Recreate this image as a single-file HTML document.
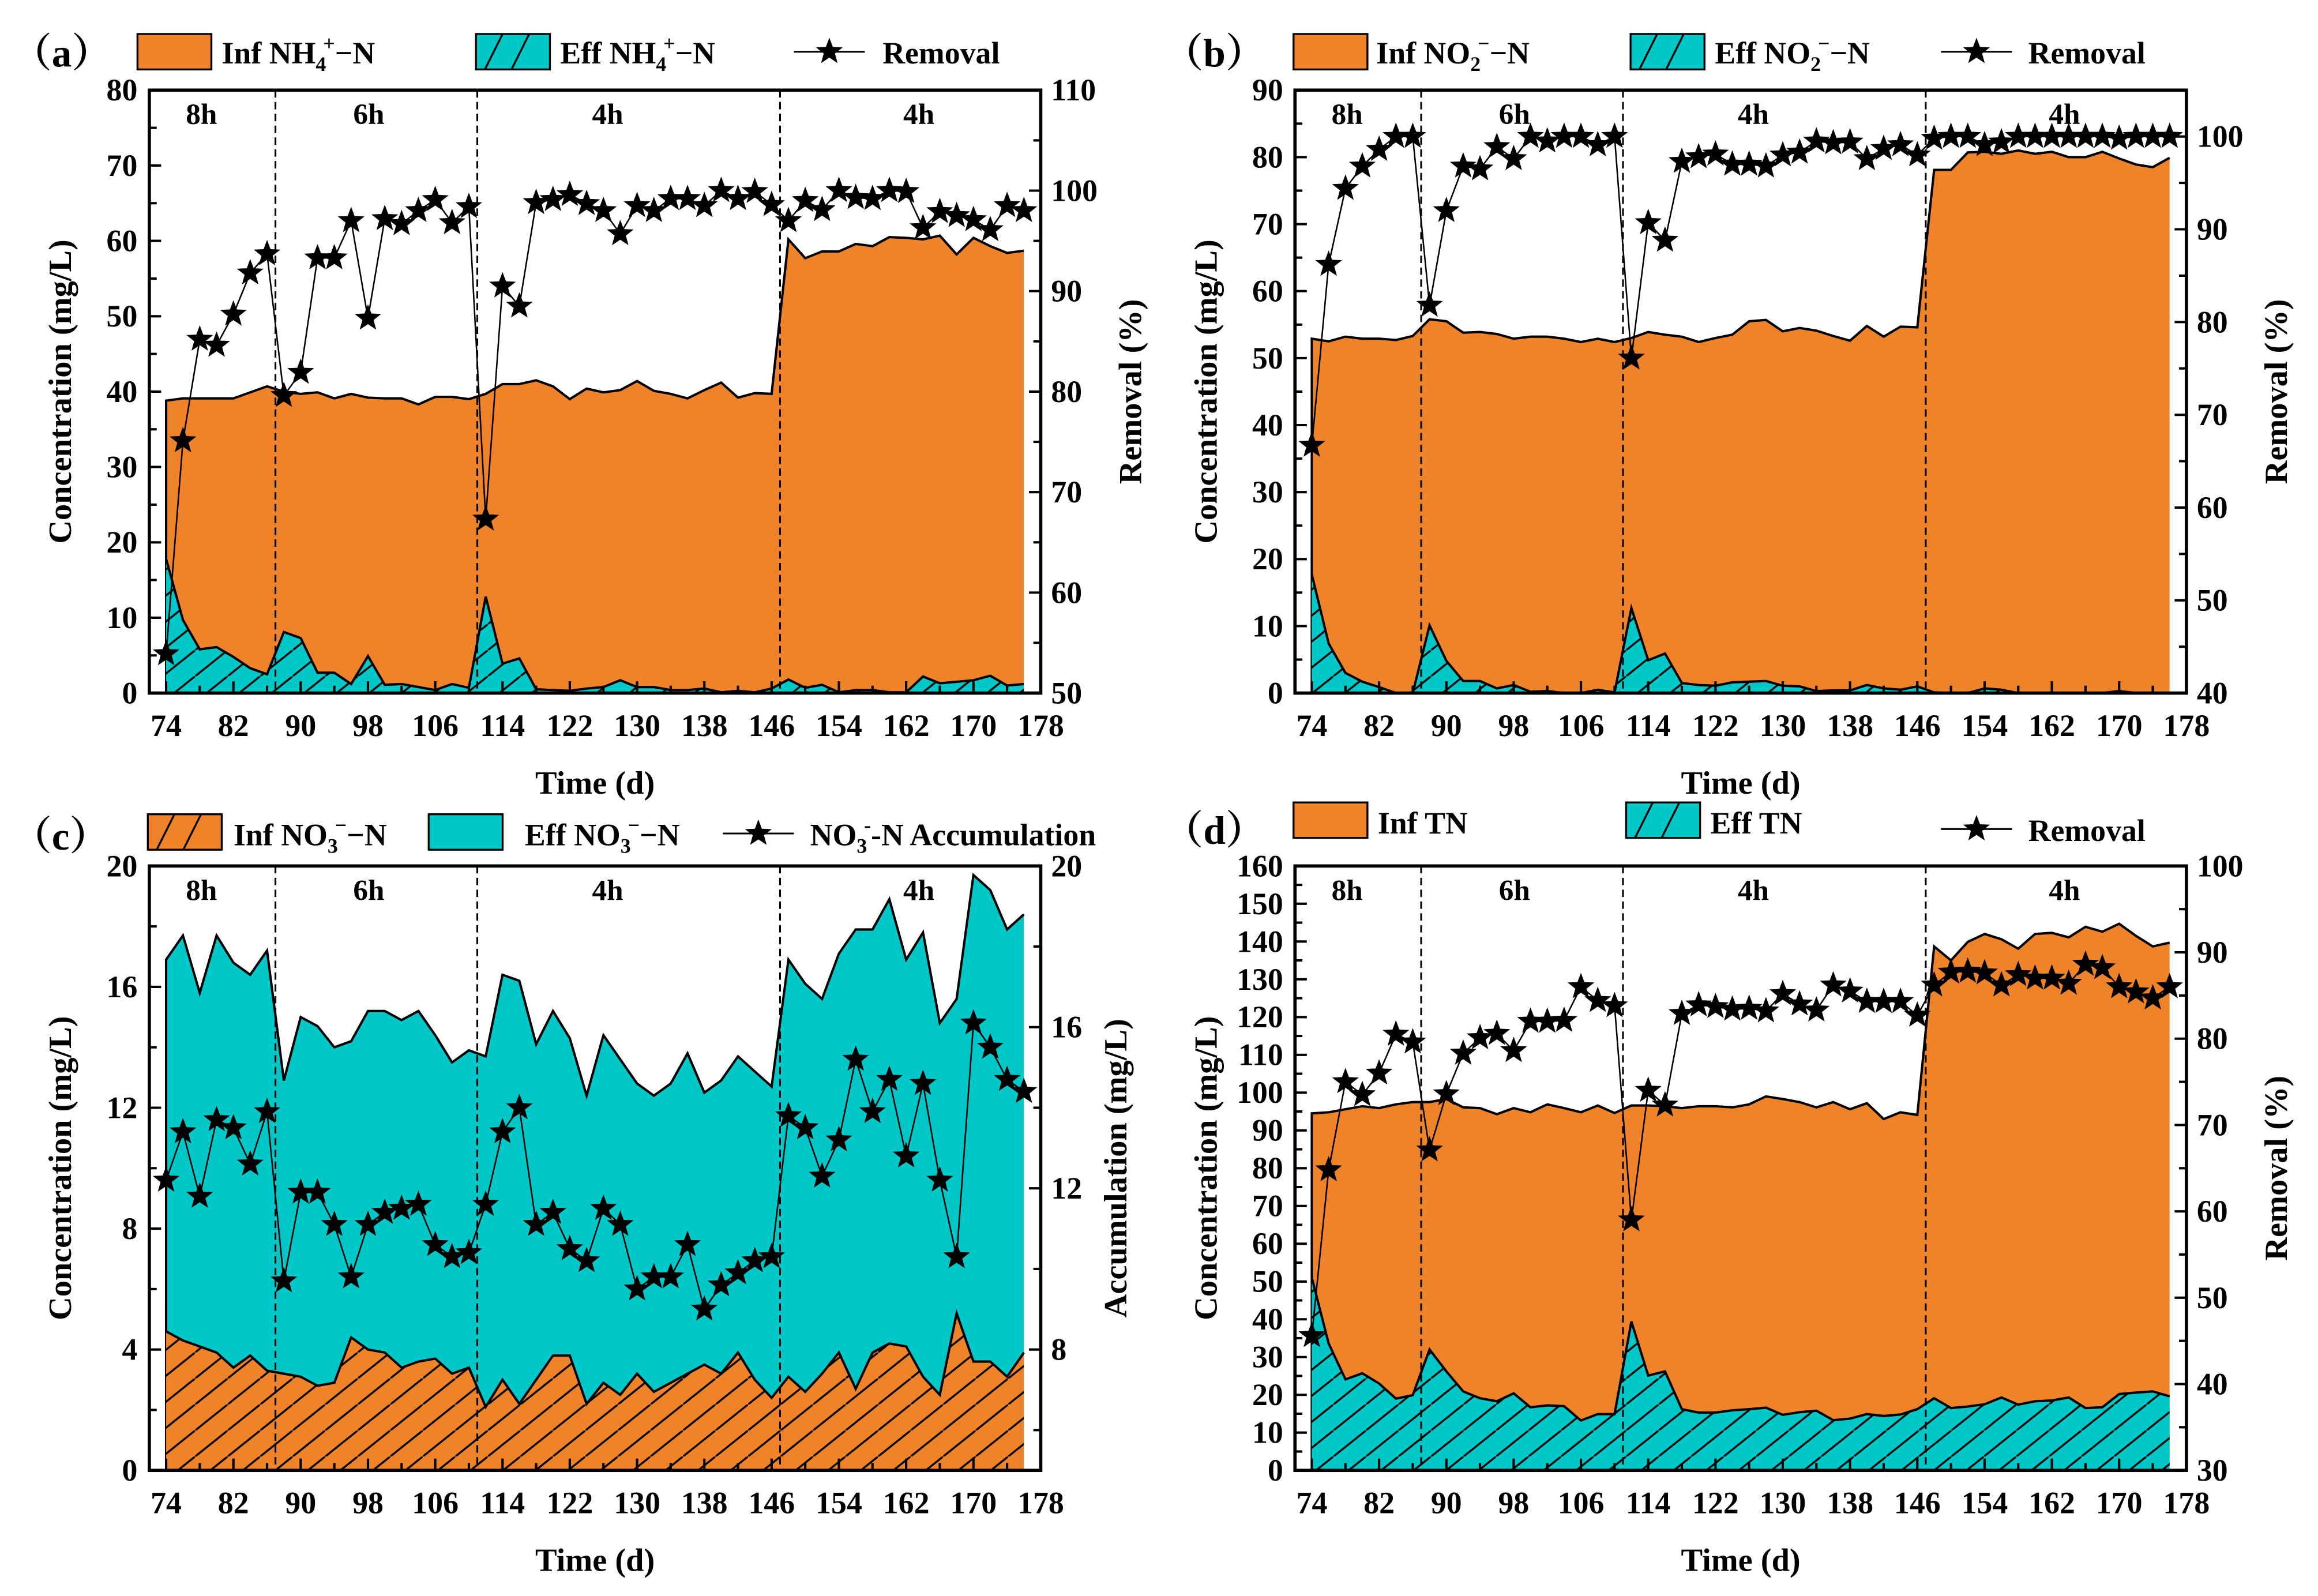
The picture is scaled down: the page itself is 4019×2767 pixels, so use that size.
<!DOCTYPE html>
<html><head><meta charset="utf-8"><title>Nitrogen removal charts</title>
<style>
html,body{margin:0;padding:0;background:#fff;}
svg{display:block;font-family:"Liberation Serif","Noto Serif CJK SC",serif;}
text{font-family:"Liberation Serif","Noto Serif CJK SC",serif;}
</style></head>
<body>
<svg id="fig" xmlns="http://www.w3.org/2000/svg" width="4019" height="2767" viewBox="0 0 1568 1080" preserveAspectRatio="none" font-family="Liberation Serif, Noto Serif CJK SC, serif">
<defs>
<pattern id="hatch" patternUnits="userSpaceOnUse" width="22" height="17.6">
<line x1="-2" y1="19.2" x2="24" y2="-1.6" stroke="#000" stroke-width="1.3"/>
</pattern>
</defs>
<rect x="0" y="0" width="1568" height="1080" fill="#fff"/>
</svg>
<script>
const days = [74,76,78,80,82,84,86,88,90,92,94,96,98,100,102,104,106,108,110,112,114,116,118,120,122,124,126,128,130,132,134,136,138,140,142,144,146,148,150,152,154,156,158,160,162,164,166,168,170,172,174,176];
const xTickLabels = [74,82,90,98,106,114,122,130,138,146,154,162,170,178];
const phaseBreaks = [87,111,147];
const phaseNames = ["8h","6h","4h","4h"];
const phaseCenters = [78.2,98.1,126.5,163.5];

const aInf = [38.8,39.1,39.1,39.1,39.1,39.9,40.7,40.0,39.7,39.9,39.1,39.7,39.2,39.1,39.1,38.3,39.3,39.3,39.0,39.7,41.0,41.0,41.5,40.7,39.0,40.4,39.9,40.2,41.4,40.1,39.7,39.1,40.2,41.2,39.2,39.8,39.7,60.2,57.7,58.6,58.6,59.6,59.3,60.5,60.4,60.2,60.7,58.2,60.4,59.3,58.4,58.7];
const aEff = [17.8,9.7,5.8,6.1,4.8,3.3,2.5,8.1,7.3,2.7,2.7,1.2,4.9,1.1,1.2,0.8,0.4,1.2,0.7,12.8,3.9,4.6,0.5,0.4,0.3,0.6,0.8,1.7,0.8,0.8,0.4,0.4,0.6,0.1,0.3,0.1,0.6,1.8,0.7,1.1,0.1,0.4,0.4,0.1,0.1,2.2,1.3,1.5,1.7,2.3,1.0,1.2];
const aRem = [53.9,75.1,85.2,84.6,87.7,91.8,93.7,79.6,81.9,93.3,93.3,97.0,87.3,97.2,96.7,98.0,99.1,96.8,98.4,67.3,90.5,88.5,98.8,99.1,99.6,98.7,98.0,95.7,98.5,98.0,99.2,99.2,98.5,100.0,99.2,99.9,98.6,97.0,99.0,98.1,100.0,99.3,99.2,100.0,99.9,96.3,97.9,97.5,97.1,96.1,98.5,98.0];

const bInf = [52.9,52.5,53.2,52.9,52.9,52.7,53.3,55.8,55.5,53.8,53.9,53.6,52.9,53.2,53.2,52.9,52.4,52.9,52.4,53.0,53.9,53.5,53.2,52.4,53.0,53.5,55.5,55.7,54.0,54.5,54.1,53.3,52.6,54.8,53.2,54.7,54.6,78.1,78.1,80.7,80.8,80.5,81.0,80.5,80.8,80.0,80.0,80.8,79.8,78.9,78.5,79.9];
const bEff = [17.7,7.4,3.0,1.7,0.9,0,0,10.1,4.8,1.8,1.8,0.7,1.2,0.2,0.3,0,0,0.5,0.1,12.7,4.9,5.9,1.5,1.2,1.1,1.6,1.7,1.8,1.1,1.0,0.3,0.4,0.4,1.2,0.7,0.5,1.0,0.1,0,0,0.7,0.5,0,0,0,0,0,0,0.3,0,0,0];
const bRem = [66.7,86.2,94.4,96.8,98.6,100,100,81.8,92.0,96.8,96.5,98.9,97.6,100,99.5,100,100,99.1,100,76.1,90.7,88.8,97.3,97.8,98.1,97.0,97.0,96.8,98.0,98.3,99.5,99.3,99.4,97.6,98.7,99.1,98.0,99.8,100,100,99.1,99.4,100,100,100,100,100,100,99.8,100,100,100];

const cInf = [4.6,4.3,4.1,3.9,3.4,3.8,3.3,3.2,3.1,2.8,2.9,4.4,4.0,3.9,3.4,3.6,3.7,3.2,3.4,2.1,3.0,2.2,3.0,3.8,3.8,2.2,2.9,2.5,3.2,2.6,2.9,3.2,3.5,3.2,3.9,3.0,2.4,3.1,2.6,3.2,3.9,2.7,3.9,4.2,4.1,3.1,2.5,5.2,3.6,3.6,3.1,3.9];
const cEff = [16.9,17.7,15.8,17.7,16.8,16.4,17.2,12.9,15.0,14.7,14.0,14.2,15.2,15.2,14.9,15.2,14.4,13.5,13.9,13.7,16.4,16.2,14.1,15.2,14.3,12.4,14.4,13.6,12.8,12.4,12.8,13.8,12.5,12.9,13.7,13.2,12.7,16.9,16.1,15.6,17.1,17.9,17.9,18.9,16.9,17.8,14.8,15.6,19.7,19.2,17.9,18.4];
const cAcc = [12.2,13.4,11.8,13.7,13.5,12.6,13.9,9.7,11.9,11.9,11.1,9.8,11.1,11.4,11.5,11.6,10.6,10.3,10.4,11.6,13.4,14.0,11.1,11.4,10.5,10.2,11.5,11.1,9.5,9.8,9.8,10.6,9.0,9.6,9.9,10.2,10.3,13.8,13.5,12.3,13.2,15.2,13.9,14.7,12.8,14.6,12.2,10.3,16.1,15.5,14.7,14.4];

const dInf = [94.5,94.8,95.6,96.4,95.9,96.9,97.5,97.5,98.3,96.1,95.9,94.3,95.9,94.8,96.9,95.9,94.8,96.6,94.6,96.6,96.6,96.4,95.9,96.4,96.4,96.1,96.9,99.0,98.3,97.5,96.1,97.5,95.6,97.2,93.0,94.8,94.1,138.7,135.0,139.9,142.0,140.6,138.1,142.0,142.3,141.1,143.9,142.6,144.7,141.5,138.7,139.7];
const dEff = [51.0,33.6,24.1,25.7,23.0,19.0,19.9,32.0,26.2,20.9,19.1,18.3,20.4,16.7,17.2,17.0,13.2,14.9,14.9,39.4,25.1,26.2,16.2,15.3,15.3,15.9,16.2,16.6,14.7,15.4,15.8,13.3,13.7,14.9,14.4,14.8,16.2,19.1,16.5,16.9,17.5,19.3,17.4,18.3,18.5,19.3,16.5,16.7,20.2,20.6,20.9,19.6];
const dRem = [45.6,64.8,75.0,73.5,76.0,80.5,79.6,67.1,73.6,78.3,80.1,80.6,78.6,82.0,82.0,82.1,86.0,84.4,83.8,59.0,74.0,72.3,82.9,83.9,83.7,83.4,83.5,83.2,85.2,84.0,83.3,86.2,85.5,84.3,84.3,84.3,82.7,86.2,87.7,87.8,87.6,86.2,87.4,87.0,87.0,86.4,88.6,88.2,86.0,85.4,84.7,86.0];

const aLeftTicks = [0,10,20,30,40,50,60,70,80];
const aRightTicks = [50,60,70,80,90,100,110];
const bLeftTicks = [0,10,20,30,40,50,60,70,80,90];
const bRightTicks = [40,50,60,70,80,90,100];
const cLeftTicks = [0,4,8,12,16,20];
const cRightTicks = [8,12,16,20];
const dLeftTicks = [0,10,20,30,40,50,60,70,80,90,100,110,120,130,140,150,160];
const dRightTicks = [30,40,50,60,70,80,90,100];

const NS = "http://www.w3.org/2000/svg";
const svg = document.getElementById("fig");
function mk(tag, attrs, parent){
  const e = document.createElementNS(NS, tag);
  for (const k in attrs) e.setAttribute(k, attrs[k]);
  (parent || svg).appendChild(e);
  return e;
}
function starPts(cx, cy, R){
  const r = R*0.42, pts=[];
  for (let i=0;i<10;i++){
    const ang = -Math.PI/2 + i*Math.PI/5;
    const rr = i%2===0 ? R : r;
    pts.push((cx+rr*Math.cos(ang)).toFixed(2)+","+(cy+rr*Math.sin(ang)).toFixed(2));
  }
  return pts.join(" ");
}
const ORANGE = "#EF832A", CYAN = "#00C8C8";

function drawPanel(p){
  const g = mk("g", {});
  
  
  const x = d => p.L + (d-72)/(178-72)*(p.R-p.L);
  const yl = v => p.B - (v-p.yl[0])/(p.yl[1]-p.yl[0])*(p.B-p.T);
  const yr = v => p.B - (v-p.yr[0])/(p.yr[1]-p.yr[0])*(p.B-p.T);
  function areaPath(vals){
    let d = "M"+x(days[0])+","+p.B;
    vals.forEach((v,i)=>{ d += " L"+x(days[i]).toFixed(2)+","+yl(v).toFixed(2); });
    d += " L"+x(days[days.length-1])+","+p.B+" Z";
    return d;
  }
  function linePts(vals, f){ return vals.map((v,i)=>x(days[i]).toFixed(2)+","+f(v).toFixed(2)).join(" "); }

  const back = p.hatchInf ? p.eff : p.inf;
  const front = p.hatchInf ? p.inf : p.eff;
  const backColor = p.hatchInf ? CYAN : ORANGE;
  const frontColor = p.hatchInf ? ORANGE : CYAN;

  const a1 = mk("path", {d: areaPath(back), fill: backColor, stroke:"none"}, g);
  
  
  const o1 = mk("polyline", {points: x(days[0])+","+p.B+" "+linePts(back, yl), fill:"none", stroke:"#000", "stroke-width":1.6}, g);
  
  
  const a2 = mk("path", {d: areaPath(front), fill: frontColor, stroke:"none"}, g);
  
  
  const h2 = mk("path", {d: areaPath(front), fill: "url(#hatch)", stroke:"none"}, g);
  
  
  const o2 = mk("polyline", {points: linePts(front, yl), fill:"none", stroke:"#000", "stroke-width":1.6}, g);
  
  

  phaseBreaks.forEach(d=>{
    const l = mk("line", {x1:x(d), x2:x(d), y1:p.T, y2:p.B, stroke:"#000", "stroke-width":1.2, "stroke-dasharray":"5,3"}, g);
    
    
  });
  phaseNames.forEach((n,i)=>{
    const t = mk("text", {x:x(phaseCenters[i]), y:p.T+23, "text-anchor":"middle", "font-size":20, "font-weight":"bold"}, g);
    t.textContent = n;
    
    
  });

  const rl = mk("polyline", {points: linePts(p.sec, yr), fill:"none", stroke:"#000", "stroke-width":1}, g);
  
  
  p.sec.forEach((v,i)=>{
    const s = mk("polygon", {points: starPts(x(days[i]), yr(v), 9.5), fill:"#000"}, g);
    
    
  });

  const fr = mk("rect", {x:p.L, y:p.T, width:p.R-p.L, height:p.B-p.T, fill:"none", stroke:"#000", "stroke-width":2.2}, g);
  
  

  for (let d=74; d<=178; d+=4){
    const major = (d-74)%8===0;
    const t = mk("line", {x1:x(d), x2:x(d), y1:p.B, y2:p.B-(major?8:5), stroke:"#000", "stroke-width":1.6}, g);
    
    
  }
  xTickLabels.forEach(d=>{
    const t = mk("text", {x:x(d), y:p.B+29, "text-anchor":"middle", "font-size":21, "font-weight":"bold"}, g);
    t.textContent = d;
    
    
  });
  const lstep = p.leftTicks[1]-p.leftTicks[0];
  for (let v=p.yl[0]; v<=p.yl[1]+1e-9; v+=lstep/2){
    const major = Math.abs(((v-p.yl[0])/lstep) - Math.round((v-p.yl[0])/lstep))<1e-6;
    const t = mk("line", {x1:p.L, x2:p.L+(major?8:5), y1:yl(v), y2:yl(v), stroke:"#000", "stroke-width":1.6}, g);
    
    
  }
  p.leftTicks.forEach(v=>{
    const t = mk("text", {x:p.L-8, y:yl(v)+7, "text-anchor":"end", "font-size":21, "font-weight":"bold"}, g);
    t.textContent = v;
    
    
  });
  const rstep = p.rightTicks[1]-p.rightTicks[0];
  for (let v=p.rightTicks[0]-Math.floor((p.rightTicks[0]-p.yr[0])/(rstep/2))*(rstep/2); v<=p.yr[1]+1e-9; v+=rstep/2){
    const major = p.rightTicks.some(r=>Math.abs(r-v)<1e-6);
    const t = mk("line", {x1:p.R, x2:p.R-(major?8:5), y1:yr(v), y2:yr(v), stroke:"#000", "stroke-width":1.6}, g);
    
    
  }
  p.rightTicks.forEach(v=>{
    const t = mk("text", {x:p.R+7, y:yr(v)+7, "text-anchor":"start", "font-size":21, "font-weight":"bold"}, g);
    t.textContent = v;
    
    
  });
  const midY = (p.T+p.B)/2;
  const lt = mk("text", {x:0, y:0, transform:"translate("+(p.L-53)+","+midY+") rotate(-90)", "text-anchor":"middle", "font-size":22, "font-weight":"bold"}, g);
  lt.textContent = "Concentration (mg/L)";
  
  
  const rt = mk("text", {x:0, y:0, transform:"translate("+(p.R+p.rtOff)+","+midY+") rotate(-90)", "text-anchor":"middle", "font-size":22, "font-weight":"bold"}, g);
  rt.textContent = p.rightTitle;
  
  
  const xt = mk("text", {x:(p.L+p.R)/2, y:p.B+68, "text-anchor":"middle", "font-size":22, "font-weight":"bold"}, g);
  xt.textContent = "Time (d)";
  
  
}

drawPanel({name:"panel-a", L:101,R:704,T:61,B:469, yl:[0,80], yr:[50,110], inf:aInf, eff:aEff, sec:aRem, secName:"removal", hatchInf:false, leftTicks:aLeftTicks, rightTicks:aRightTicks, rightTitle:"Removal (%)", rtOff:68});
drawPanel({name:"panel-b", L:876,R:1479,T:61,B:469, yl:[0,90], yr:[40,105], inf:bInf, eff:bEff, sec:bRem, secName:"removal", hatchInf:false, leftTicks:bLeftTicks, rightTicks:bRightTicks, rightTitle:"Removal (%)", rtOff:68});
drawPanel({name:"panel-c", L:101,R:704,T:586,B:995, yl:[0,20], yr:[5,20], inf:cInf, eff:cEff, sec:cAcc, secName:"accumulation", hatchInf:true, leftTicks:cLeftTicks, rightTicks:cRightTicks, rightTitle:"Accumulation  (mg/L)", rtOff:58});
drawPanel({name:"panel-d", L:876,R:1479,T:586,B:995, yl:[0,160], yr:[30,100], inf:dInf, eff:dEff, sec:dRem, secName:"removal", hatchInf:false, leftTicks:dLeftTicks, rightTicks:dRightTicks, rightTitle:"Removal (%)", rtOff:68});

function panelLabel(txt, x, y){
  const t = mk("text", {x:x, y:y, "font-size":27, "font-weight":"bold"});
  t.textContent = txt;
  
  
}
function swatch(x, y, color, hatched){
  const r = mk("rect", {x:x, y:y, width:50, height:24, fill:color, stroke:"#000", "stroke-width":1.3});
  
  
  if (hatched){
    const g = mk("g", {});
    
    
    [12, 30].forEach(o=>{ mk("line", {x1:x+o-6, y1:y+24, x2:x+o+6, y2:y, stroke:"#000", "stroke-width":1.3}, g); });
  }
}
function starLine(x, y){
  const l = mk("line", {x1:x, x2:x+48, y1:y, y2:y, stroke:"#000", "stroke-width":1.2});
  
  
  const s = mk("polygon", {points: starPts(x+24, y, 9.5), fill:"#000"});
  
  
}
function chemLabel(x, y, pre, sub, sup, post){
  const t = mk("text", {x:x, y:y, "font-size":21, "font-weight":"bold"});
  
  
  const a = mk("tspan", {}, t); a.textContent = pre;
  const b = mk("tspan", {dy:5, "font-size":14}, t); b.textContent = sub;
  const c = mk("tspan", {dx:-2, dy:-14, "font-size":14}, t); c.textContent = sup;
  const d = mk("tspan", {dy:9}, t); d.textContent = post;
}
function plainLabel(x, y, txt){
  const t = mk("text", {x:x, y:y, "font-size":21, "font-weight":"bold"});
  t.textContent = txt;
  
  
}
panelLabel("（a）", 8, 45);
swatch(93, 23, ORANGE, false); chemLabel(150, 43, "Inf NH", "4", "+", "−N");
swatch(322, 23, CYAN, true); chemLabel(379, 43, "Eff NH", "4", "+", "−N");
starLine(537, 35); plainLabel(597, 43, "Removal");
panelLabel("（b）", 787, 45);
swatch(875, 23, ORANGE, false); chemLabel(931, 43, "Inf NO", "2", "−", "−N");
swatch(1103, 23, CYAN, true); chemLabel(1160, 43, "Eff NO", "2", "−", "−N");
starLine(1313, 35); plainLabel(1372, 43, "Removal");
panelLabel("（c）", 8, 575);
swatch(100, 551, ORANGE, true); chemLabel(158, 572, "Inf NO", "3", "−", "−N");
swatch(290, 551, CYAN, false); chemLabel(355, 572, "Eff NO", "3", "−", "−N");
starLine(489, 564); chemLabel(548, 572, "NO", "3", "-", "-N Accumulation");
panelLabel("（d）", 787, 571);
swatch(875, 543, ORANGE, false); plainLabel(932, 564, "Inf TN");
swatch(1100, 543, CYAN, true); plainLabel(1157, 564, "Eff TN");
starLine(1313, 561); plainLabel(1372, 569, "Removal");
</script>
</body></html>
